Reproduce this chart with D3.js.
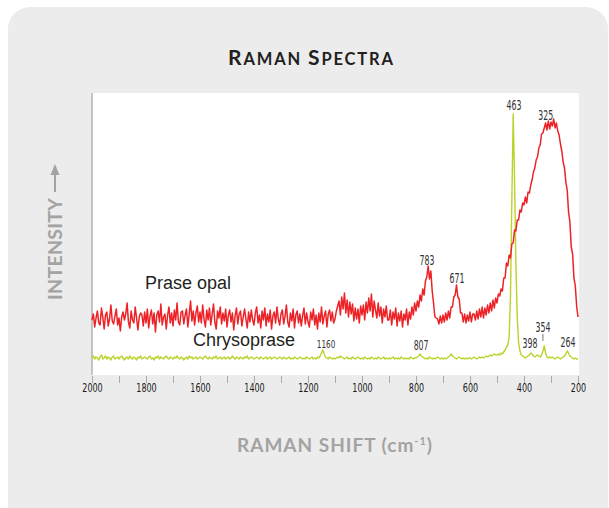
<!DOCTYPE html>
<html><head><meta charset="utf-8">
<script src="https://cdn.jsdelivr.net/npm/d3@7"></script>
<style>body{margin:0;background:#fff}</style>
</head><body>
<svg id="chart" width="609" height="508"></svg>
<script>
// ---- data ----
const waveStart = 2000, waveEnd = 200, waveStep = 5;
const praseOpal = [
55,61,48,57,64,52,50,67,58,46,60,63,49,56,70,54,51,59,66,50,
57,44,58,63,55,61,72,53,47,64,55,52,68,57,45,58,62,60,49,63,
52,66,47,59,65,51,62,43,60,64,53,71,50,58,61,46,60,68,52,62,
49,65,55,72,53,50,63,64,51,60,66,48,61,74,54,64,50,62,69,53,
63,52,70,56,48,65,55,67,50,61,71,53,46,64,57,68,51,62,54,66,
48,60,65,53,62,45,59,67,51,61,64,49,58,66,56,47,63,53,65,55,
50,62,68,52,60,47,64,55,67,49,61,53,65,46,59,63,52,68,56,50,
61,65,51,59,70,53,48,62,54,66,47,60,64,52,61,49,59,67,51,62,
53,48,63,55,66,50,60,46,62,53,68,51,59,64,48,61,65,54,63,52,
56,64,69,74,60,78,66,82,62,75,58,73,61,71,54,67,56,66,52,69,
60,70,55,73,62,77,64,81,58,74,65,57,72,59,68,52,66,58,69,55,
55,65,50,63,56,67,49,62,54,64,48,61,55,66,50,63,56,68,60,72,
64,74,68,80,74,86,80,94,98,109,96,104,84,72,58,57,56,51,59,52,
60,53,62,55,64,57,68,68,78,80,90,78,76,62,62,53,61,52,60,54,
63,53,61,61,55,64,56,66,58,68,57,67,60,70,62,72,64,75,67,77,
72,81,79,86,84,97,97,112,109,120,117,131,132,145,144,155,155,165,163,172,
170,178,172,183,182,190,195,203,207,215,218,227,230,241,242,247,252,245,254,246,
253,249,256,247,252,244,240,231,224,213,207,193,185,163,153,128,121,97,89,69,
58];
const chrysoprase = [
17,19,16,18,17,15,18,20,16,17,19,16,18,17,15,18,19,16,17,18,
16,18,19,17,15,17,18,16,19,17,16,18,17,15,18,17,19,16,17,18,
17,16,18,19,16,17,15,18,17,19,16,18,17,16,18,19,17,16,18,17,
16,18,17,19,17,16,18,17,15,17,18,16,19,17,18,16,17,18,16,17,
18,17,16,18,19,17,16,18,17,16,18,17,19,16,17,18,16,17,18,16,
17,18,16,17,19,17,16,18,17,16,18,17,16,18,17,19,16,17,18,17,
16,17,18,17,16,18,17,16,17,18,16,17,18,16,17,18,17,16,17,18,
17,16,18,17,16,17,18,16,17,16,18,17,16,17,18,17,16,17,16,18,
17,16,17,18,16,17,16,18,17,19,22,25,21,18,17,16,18,17,16,17,
16,17,18,17,19,18,17,16,17,18,16,17,16,18,17,16,17,18,17,16,
17,16,18,17,16,17,16,18,17,16,17,16,18,17,16,17,18,16,17,16,
17,16,17,18,16,17,16,17,16,18,17,16,17,16,17,16,18,17,16,17,
17,18,19,21,19,18,17,16,17,16,18,17,16,17,16,17,18,17,16,17,
16,17,16,17,18,19,21,19,18,17,16,17,18,17,16,17,16,17,16,17,
17,16,17,18,17,16,17,18,17,18,17,18,19,18,19,20,19,20,21,20,
20,21,20,22,21,23,25,28,30,38,80,175,261,195,110,58,32,24,20,19,
18,17,18,19,20,22,21,19,18,19,20,19,18,20,24,29,22,18,17,18,
17,18,17,16,17,18,17,16,17,18,19,21,24,22,19,18,17,16,17,16,
16];
const tickValues = [2000,1900,1800,1700,1600,1500,1400,1300,1200,1100,1000,900,800,700,600,500,400,300,200];
const tickLabels = [2000,1800,1600,1400,1200,1000,800,600,400,200];
const peakTexts  = ["463","325","783","671","1160","807","398","354","264"];
const peakWaves  = [437, 319, 759, 648, 1133, 781, 378, 330, 237];
const peakLevels = [265, 255, 110, 92, 27, 25, 27, 43, 28];
const seriesNames = ["Prase opal", "Chrysoprase"];

const waves = d3.range(waveStart, waveEnd - 1, -waveStep);

// ---- layout ----
const svg = d3.select("#chart");
const L = 92, R = 578, T = 93, B = 375;
const x = d3.scaleLinear().domain([2000, 200]).range([L, R]);
const y = d3.scaleLinear().domain([0, 282]).range([B, T]);

svg.append("rect").attr("x", 8).attr("y", 7).attr("width", 600).attr("height", 540)
  .attr("rx", 22).attr("fill", "#ececec");
svg.append("rect").attr("x", L).attr("y", T).attr("width", R + 1 - L).attr("height", B - T)
  .attr("fill", "#ffffff");
svg.append("line").attr("x1", L).attr("x2", L).attr("y1", T).attr("y2", B)
  .attr("stroke", "#b3b3b3").attr("stroke-width", 1.5);

function fitWidth(sel, target) {
  const n = sel.text().length;
  const w = sel.node().getComputedTextLength();
  sel.attr("letter-spacing", ((target - w) / Math.max(1, n - 1)).toFixed(2));
}

// title
const title = svg.append("text").attr("x", 311.5).attr("y", 65).attr("text-anchor", "middle")
  .attr("font-family", "Lato, 'Open Sans', sans-serif").attr("font-weight", 700)
  .attr("fill", "#231f20");
title.append("tspan").attr("font-size", 21).text("R");
title.append("tspan").attr("font-size", 16.5).text("AMAN ");
title.append("tspan").attr("font-size", 21).text("S");
title.append("tspan").attr("font-size", 16.5).text("PECTRA");
fitWidth(title, 165);

// x axis
const axis = d3.axisBottom(x).tickValues(tickValues).tickSize(7).tickPadding(4)
  .tickFormat(d => tickLabels.includes(d) ? d : "");
const gx = svg.append("g").attr("transform", `translate(0,${B + 1})`).call(axis);
gx.select(".domain").remove();
gx.selectAll(".tick line").attr("stroke", "#aaaaaa").attr("stroke-width", 1);
gx.selectAll(".tick text")
  .attr("font-family", "'Liberation Sans Narrow', 'DejaVu Sans Condensed', 'Arial Narrow', sans-serif")
  .attr("font-size", 13).attr("fill", "#1a1a1a").attr("y", 16).attr("dy", 0)
  .each(function(d) {
    const t = String(d);
    if (tickLabels.includes(d)) d3.select(this).attr("textLength", t.length * 5.1).attr("lengthAdjust", "spacingAndGlyphs");
  });

// x label
const xl = svg.append("text").attr("x", 335).attr("y", 452).attr("text-anchor", "middle")
  .attr("font-family", "Lato, 'Open Sans', sans-serif").attr("font-weight", 700)
  .attr("font-size", 19).attr("fill", "#a3a3a3");
xl.append("tspan").text("RAMAN SHIFT (cm");
xl.append("tspan").attr("font-size", 11).attr("dy", -7).text("-1");
xl.append("tspan").attr("dy", 7).text(")");
fitWidth(xl, 195);

// y label
const yl = svg.append("text").attr("transform", "translate(62,300) rotate(-90)")
  .attr("font-family", "Lato, 'Open Sans', sans-serif").attr("font-weight", 700)
  .attr("font-size", 19.5).attr("fill", "#a3a3a3").text("INTENSITY");
fitWidth(yl, 102);
svg.append("line").attr("x1", 55).attr("x2", 55).attr("y1", 192).attr("y2", 172)
  .attr("stroke", "#a3a3a3").attr("stroke-width", 2);
svg.append("path").attr("d", "M55,164 L50.5,175 L59.5,175 Z").attr("fill", "#a3a3a3");

// lines
const line = d3.line().x((d, i) => x(waves[i])).y(d => y(d));
svg.append("path").datum(chrysoprase).attr("d", line).attr("fill", "none")
  .attr("stroke", "#bcd22a").attr("stroke-width", 1.4).attr("stroke-linejoin", "round");
svg.append("path").datum(praseOpal).attr("d", line).attr("fill", "none")
  .attr("stroke", "#ec2227").attr("stroke-width", 1.5).attr("stroke-linejoin", "round");

// series labels
svg.append("text").attr("x", 145).attr("y", 289).attr("font-family", "'Liberation Sans', Arial, sans-serif")
  .attr("font-size", 18).attr("fill", "#231f20").text(seriesNames[0]);
svg.append("text").attr("x", 193).attr("y", 346).attr("font-family", "'Liberation Sans', Arial, sans-serif")
  .attr("font-size", 18).attr("fill", "#231f20").text(seriesNames[1]);

// peak labels
peakTexts.forEach((t, i) => {
  const small = t.length > 3;
  svg.append("text").attr("x", x(peakWaves[i])).attr("y", y(peakLevels[i]))
    .attr("text-anchor", "middle")
    .attr("font-family", "'Liberation Sans Narrow', 'DejaVu Sans Condensed', 'Arial Narrow', sans-serif")
    .attr("font-size", small ? 11 : 13.5).attr("fill", "#333")
    .attr("textLength", small ? 18.5 : 15).attr("lengthAdjust", "spacingAndGlyphs").text(t);
});
// small pointer under "354"
svg.append("line").attr("x1", x(330)).attr("x2", x(330)).attr("y1", y(41)).attr("y2", y(34))
  .attr("stroke", "#555").attr("stroke-width", 0.8);
</script>
</body></html>
